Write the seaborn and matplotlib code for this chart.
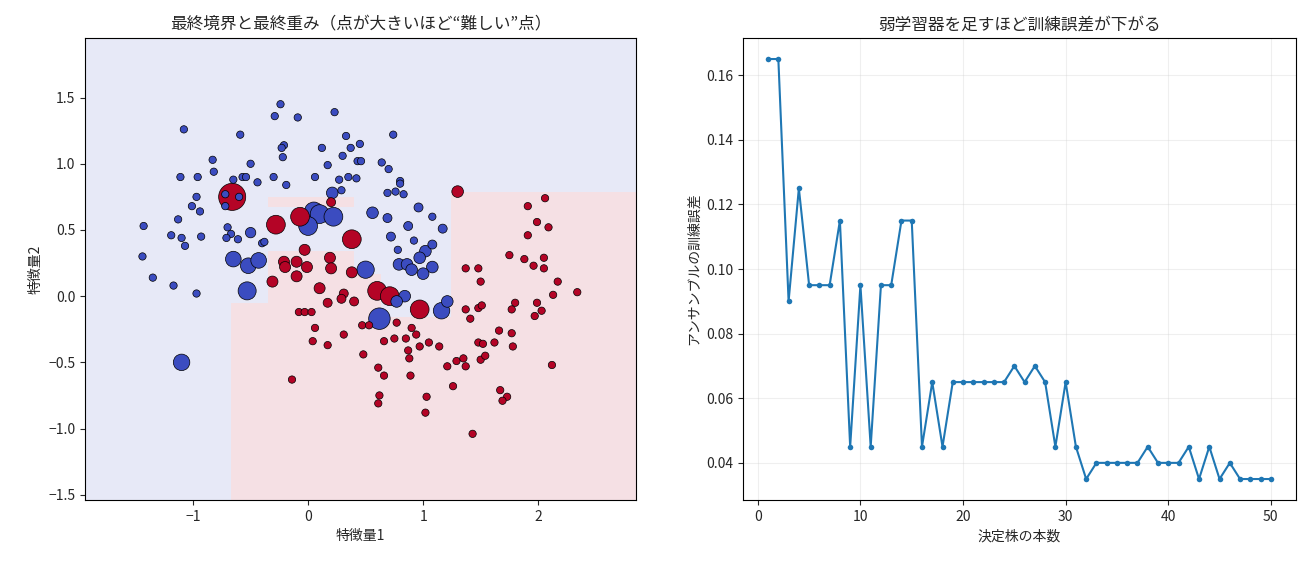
import numpy as np
import pandas as pd
import matplotlib
matplotlib.use("Agg")
import matplotlib.pyplot as plt
import seaborn as sns

# ---- left panel: training points (feature1, feature2) and final AdaBoost weights ----
blue_x = [-0.24, -0.29, -0.09, 0.23, -1.08, -0.59, 0.33, 0.74, 0.45, -0.21,
          -0.23, 0.12, 0.37, -0.83, -0.22, 0.30, 0.43, 0.46, 0.64, 0.70,
          -0.50, 0.17, -0.82, -1.11, -0.96, -0.65, -0.57, -0.54, -0.44, -0.30,
          -0.19, 0.06, 0.27, 0.35, 0.42, 0.80, 0.80, 0.29, 0.21, 0.69,
          0.76, 0.83, -0.97, -1.01, -0.94, -0.72, -0.60, -0.72, 0.96, 1.08,
          0.56, 0.69, 0.87, 1.17, 0.72, 0.92, 1.08, 0.78, 1.02, 0.97,
          0.79, 0.86, 0.90, 1.08, 1.00, -1.13, -1.43, -1.19, -1.10, -1.07,
          -0.93, -0.70, -0.67, -0.71, -0.61, -0.50, -0.40, -0.38, -1.44, -1.35,
          -1.17, -0.97, 0.05, 0.10, 0.22, 0.00, -0.65, -0.52, -0.43, -0.53,
          0.50, -1.10, 0.62, 0.84, 0.77, 1.21, 1.16]
blue_y = [1.45, 1.36, 1.35, 1.39, 1.26, 1.22, 1.21, 1.22, 1.15, 1.14,
          1.12, 1.12, 1.12, 1.03, 1.05, 1.06, 1.02, 1.02, 1.01, 0.96,
          1.00, 0.99, 0.94, 0.90, 0.90, 0.88, 0.90, 0.90, 0.86, 0.90,
          0.84, 0.90, 0.88, 0.90, 0.89, 0.87, 0.85, 0.80, 0.78, 0.78,
          0.79, 0.77, 0.75, 0.68, 0.64, 0.77, 0.75, 0.68, 0.67, 0.60,
          0.63, 0.59, 0.53, 0.51, 0.45, 0.42, 0.39, 0.35, 0.34, 0.29,
          0.24, 0.24, 0.20, 0.22, 0.17, 0.58, 0.53, 0.46, 0.44, 0.38,
          0.45, 0.52, 0.47, 0.44, 0.43, 0.48, 0.40, 0.41, 0.30, 0.14,
          0.08, 0.02, 0.64, 0.62, 0.60, 0.53, 0.28, 0.23, 0.27, 0.04,
          0.20, -0.50, -0.17, 0.00, -0.04, -0.04, -0.11]
blue_w = [1, 1, 1, 1, 1, 1, 1, 1, 1, 1,
          1, 1, 1, 1, 1, 1, 1, 1, 1, 1,
          1, 1, 1, 1, 1, 1, 1, 1, 1, 1,
          1, 1, 1, 1, 1, 1, 1, 1, 4, 1,
          1, 1, 1, 1, 1, 1, 1, 1, 2, 1,
          4, 2, 2, 2, 2, 1, 2, 1, 4, 4,
          4, 4, 4, 4, 4, 1, 1, 1, 1, 1,
          1, 1, 1, 1, 1, 3, 1, 1, 1, 1,
          1, 1, 12, 12, 12, 12, 8, 8, 8, 11,
          10, 9, 16, 4, 4, 4, 9]

red_x = [-0.66, 0.20, -0.07, -0.28, 0.38, 1.30, -0.03, -0.21, -0.10, -0.20,
         -0.01, -0.10, 0.19, 0.20, 0.38, -0.31, 0.10, 0.17, 0.31, 0.29,
         0.40, -0.08, -0.03, 0.03, 0.06, 0.04, 0.31, 0.17, 0.47, 0.53,
         0.48, -0.14, 0.60, 0.71, 0.97, 0.77, 0.90, 0.94, 0.66, 0.75,
         0.85, 0.97, 1.05, 1.14, 0.87, 0.88, 0.61, 0.66, 0.89, 0.62,
         0.61, 1.03, 1.02, 1.21, 1.29, 1.35, 1.37, 1.26, 1.43, 1.37,
         1.41, 1.48, 1.51, 1.50, 1.37, 1.48, 1.88, 1.96, 2.05, 2.05,
         1.75, 2.17, 2.13, 2.34, 1.80, 1.77, 1.99, 2.03, 1.97, 1.66,
         1.77, 1.48, 1.52, 1.62, 1.78, 1.50, 1.54, 2.12, 1.67, 1.73,
         1.69, 1.91, 2.06, 1.99, 2.09, 1.91]
red_y = [0.75, 0.71, 0.60, 0.54, 0.43, 0.79, 0.35, 0.26, 0.26, 0.22,
         0.22, 0.15, 0.29, 0.21, 0.18, 0.11, 0.06, -0.05, 0.02, -0.02,
         -0.04, -0.12, -0.12, -0.12, -0.24, -0.34, -0.29, -0.37, -0.22, -0.22,
         -0.44, -0.63, 0.04, 0.00, -0.10, -0.20, -0.24, -0.29, -0.34, -0.32,
         -0.32, -0.38, -0.35, -0.38, -0.41, -0.47, -0.54, -0.60, -0.60, -0.75,
         -0.81, -0.76, -0.88, -0.53, -0.49, -0.47, -0.53, -0.68, -1.04, -0.10,
         -0.17, -0.09, -0.07, 0.11, 0.21, 0.21, 0.28, 0.23, 0.21, 0.29,
         0.31, 0.11, 0.01, 0.03, -0.05, -0.10, -0.05, -0.11, -0.15, -0.26,
         -0.28, -0.35, -0.36, -0.35, -0.38, -0.48, -0.45, -0.52, -0.71, -0.76,
         -0.79, 0.68, 0.74, 0.56, 0.52, 0.46]
red_w = [26, 2, 12, 12, 12, 4, 3.5, 3.5, 3.5, 3.5,
         3.5, 3.5, 3.5, 3.5, 3.5, 3.5, 3.5, 2, 2, 2,
         2, 1, 1, 1, 1, 1, 1, 1, 1, 1,
         1, 1, 12, 12, 12, 1, 1, 1, 1, 1,
         1, 1, 1, 1, 1, 1, 1, 1, 1, 1,
         1, 1, 1, 1, 1, 1, 1, 1, 1, 1,
         1, 1, 1, 1, 1, 1, 1, 1, 1, 1,
         1, 1, 1, 1, 1, 1, 1, 1, 1, 1,
         1, 1, 1, 1, 1, 1, 1, 1, 1, 1,
         1, 1, 1, 1, 1, 1]

# final decision regions (0 = class 0 / blue, 1 = class 1 / red), rows bottom -> top
region_x_edges = [-1.94, -0.67, -0.35, 0.40, 0.63, 1.24, 2.85]
region_y_edges = [-1.54, -0.16, -0.05, 0.17, 0.34, 0.67, 0.75, 0.79, 1.95]
region_labels = [
    [0, 1, 1, 1, 1, 1],
    [0, 1, 1, 1, 0, 1],
    [0, 0, 1, 1, 0, 1],
    [0, 0, 1, 0, 0, 1],
    [0, 0, 0, 0, 0, 1],
    [0, 0, 1, 0, 0, 1],
    [0, 0, 0, 0, 0, 1],
    [0, 0, 0, 0, 0, 0],
]

# ---- right panel: training error vs number of stumps ----
n_stumps = list(range(1, 51))
train_error = [0.165, 0.165, 0.090, 0.125, 0.095, 0.095, 0.095, 0.115, 0.045, 0.095,
               0.045, 0.095, 0.095, 0.115, 0.115, 0.045, 0.065, 0.045, 0.065, 0.065,
               0.065, 0.065, 0.065, 0.065, 0.070, 0.065, 0.070, 0.065, 0.045, 0.065,
               0.045, 0.035, 0.040, 0.040, 0.040, 0.040, 0.040, 0.045, 0.040, 0.040,
               0.040, 0.045, 0.035, 0.045, 0.035, 0.040, 0.035, 0.035, 0.035, 0.035]

sns.set_style("ticks")
plt.rcParams['font.family'] = ['Noto Sans CJK JP', 'DejaVu Sans']
plt.rcParams['axes.unicode_minus'] = True

df = pd.DataFrame({
    'x': blue_x + red_x,
    'y': blue_y + red_y,
    'label': [0] * len(blue_x) + [1] * len(red_x),
    'w': blue_w + red_w,
})
# big points first so the small ones stay visible on top
df = df.sort_values('w', ascending=False, kind='stable')

cmap = plt.get_cmap('coolwarm')
palette = {0: cmap(0.0), 1: cmap(1.0)}

fig = plt.figure(figsize=(13.05, 5.65), dpi=100)
ax1 = fig.add_axes([0.0651, 0.1150, 0.4222, 0.8177])
ax2 = fig.add_axes([0.5693, 0.1150, 0.4238, 0.8177])

ax1.pcolormesh(region_x_edges, region_y_edges, np.array(region_labels),
               cmap='coolwarm', vmin=0, vmax=1, alpha=0.12, shading='flat')
sns.scatterplot(data=df, x='x', y='y', hue='label', palette=palette,
                size='w', sizes=(28, 380), size_norm=(1, 26),
                edgecolor='k', linewidth=0.5, alpha=1.0, legend=False, ax=ax1)
ax1.set_xlim(region_x_edges[0], region_x_edges[-1])
ax1.set_ylim(region_y_edges[0], region_y_edges[-1])
ax1.set_title('最終境界と最終重み（点が大きいほど“難しい”点）')
ax1.set_xlabel('特徴量1')
ax1.set_ylabel('特徴量2')
for s in ax1.spines.values():
    s.set_color('black')

sns.lineplot(x=n_stumps, y=train_error, marker='o', markersize=4,
             markeredgewidth=0, color='#1f77b4', linewidth=1.5, ax=ax2)
ax2.grid(True, alpha=0.3)
ax2.set_title('弱学習器を足すほど訓練誤差が下がる')
ax2.set_xlabel('決定株の本数')
ax2.set_ylabel('アンサンブルの訓練誤差')
for s in ax2.spines.values():
    s.set_color('black')

fig.savefig('out.png', dpi=100)
